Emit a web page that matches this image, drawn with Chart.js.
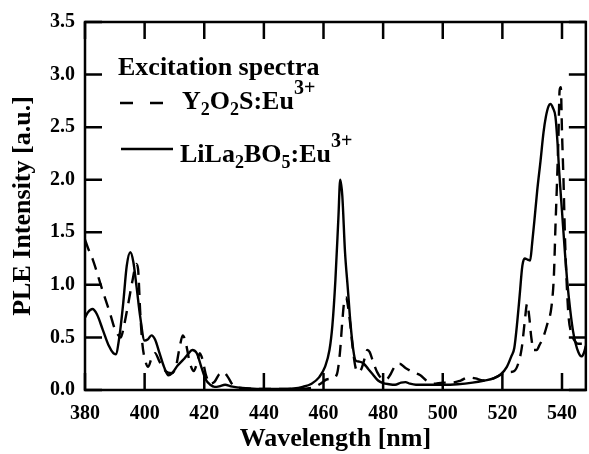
<!DOCTYPE html>
<html>
<head>
<meta charset="utf-8">
<script src="https://cdn.jsdelivr.net/npm/chart.js@4.4.1/dist/chart.umd.min.js"></script>
<style>
  html, body { margin: 0; padding: 0; background: #fff; }
  canvas { display: block; }
</style>
</head>
<body>
<canvas id="c" width="589" height="454"></canvas>
<script>
// ---- data ----
const xTickValues = [380, 400, 420, 440, 460, 480, 500, 520, 540];
const yTickValues = [0, 0.5, 1.0, 1.5, 2.0, 2.5, 3.0, 3.5];

// LiLa2BO5:Eu3+ (solid)
const wlLiLa = [380,381,382.5,384,386,388,389.5,390.3,391.5,392.8,394,395.2,396.2,397.3,398.5,400,401,402.3,403.5,405,406.5,408,409.5,411,413,414.5,416,417.5,419,420.5,422,423.5,425,427,429,431,435,440,445,450,453,456,458.5,460.5,462,463,464,465,465.6,466.3,467.2,468.2,469,470,470.8,472,473.5,475,476.5,478.3,480,482,484,486,487.5,489,491,495,500,505,510,514,517,519.5,521.5,523,524,525,525.8,526.7,527.5,528.5,529.3,530,530.7,531.7,532.8,533.8,534.6,535.5,536.1,537,537.8,538.5,539,540,541,541.7,542.8,543.7,544.5,545.5,546.5,547.3,548];
const valLiLa = [0.69,0.74,0.77,0.72,0.57,0.42,0.35,0.34,0.50,0.82,1.18,1.31,1.22,0.98,0.70,0.47,0.48,0.52,0.48,0.35,0.22,0.14,0.17,0.23,0.29,0.34,0.38,0.35,0.22,0.10,0.05,0.03,0.035,0.05,0.035,0.025,0.015,0.01,0.01,0.015,0.03,0.06,0.12,0.22,0.38,0.62,1.05,1.64,2.0,1.85,1.32,0.95,0.65,0.38,0.28,0.27,0.25,0.20,0.15,0.09,0.065,0.055,0.05,0.07,0.075,0.06,0.05,0.05,0.05,0.055,0.07,0.09,0.11,0.15,0.22,0.32,0.40,0.65,0.90,1.18,1.25,1.24,1.23,1.40,1.60,1.90,2.18,2.45,2.60,2.70,2.72,2.68,2.60,2.35,2.10,1.70,1.30,1.05,0.75,0.56,0.45,0.36,0.32,0.35,0.42];

// Y2O2S:Eu3+ (dashed)
const wlY2O2S = [380,381,382.5,384,385.5,387,388.5,390,391.2,392,393,394.5,396,397.2,397.8,398.5,399.2,400.3,401.2,402.3,403.5,405,407,409,410.5,411.7,412.8,413.8,415,416.5,417.5,418.5,419.5,420.5,422,423.5,425,426.5,428,429.5,432,440,450,456,459,461,463,464.5,465.5,466.3,467,467.6,468.3,469,469.8,470.7,471.7,472.7,473.8,474.7,475.5,476.5,478,479.5,481,482.5,484,485.5,487.5,490,492.5,494.5,497,500,503,506,508.5,511,513.5,516,518.5,520.5,522.5,524,525.3,526.5,527.5,528.3,529,529.7,530.5,531.5,532.5,533.7,535,536.5,537.3,537.8,538.3,538.8,539.2,539.6,540,540.5,541,541.6,542.2,543,544,545.5,547,548];
const valY2O2S = [1.43,1.35,1.25,1.12,0.98,0.85,0.72,0.58,0.52,0.50,0.60,0.82,1.05,1.20,1.15,0.75,0.45,0.27,0.22,0.30,0.35,0.27,0.18,0.16,0.22,0.40,0.52,0.45,0.28,0.18,0.25,0.35,0.28,0.15,0.06,0.08,0.15,0.17,0.12,0.05,0.02,0.01,0.01,0.02,0.06,0.10,0.11,0.15,0.35,0.65,0.85,0.88,0.78,0.62,0.40,0.22,0.17,0.20,0.30,0.38,0.36,0.28,0.17,0.11,0.10,0.15,0.23,0.25,0.21,0.17,0.14,0.09,0.06,0.07,0.07,0.09,0.12,0.11,0.09,0.10,0.13,0.16,0.17,0.18,0.25,0.40,0.65,0.82,0.70,0.50,0.38,0.38,0.43,0.50,0.62,0.80,1.10,1.55,1.95,2.40,2.85,2.88,2.45,2.00,1.45,1.00,0.70,0.55,0.48,0.44,0.44,0.42];

const xTitle = "Wavelength [nm]";
const yTitle = "PLE Intensity [a.u.]";
const legendHeading = "Excitation spectra";

const FONT = "'Liberation Serif', 'Times New Roman', serif";

function pts(xs, ys) { return xs.map((x, i) => ({x: x, y: ys[i]})); }

// rich text helper: segments [text, kind] kind: n / sub / sup
function drawRich(ctx, x, y, segs) {
  let cx = x;
  ctx.textBaseline = 'alphabetic';
  ctx.textAlign = 'left';
  for (const [t, k] of segs) {
    let size = 26, dy = 0;
    if (k === 'sub') { size = 18; dy = 6; }
    if (k === 'sup') { size = 20; dy = -15; }
    ctx.font = "bold " + size + "px " + FONT;
    ctx.fillText(t, cx, y + dy);
    cx += ctx.measureText(t).width;
  }
}

const framePlugin = {
  id: 'frameAndLegend',
  afterDraw(chart) {
    const ctx = chart.ctx;
    const a = chart.chartArea;
    const xs = chart.scales.x, ys = chart.scales.y;
    ctx.save();
    ctx.strokeStyle = '#000';
    ctx.lineWidth = 2.5;
    ctx.setLineDash([]);
    ctx.strokeRect(a.left, a.top, a.right - a.left, a.bottom - a.top);
    const TL = 17;
    ctx.beginPath();
    for (const v of xTickValues) {
      const px = xs.getPixelForValue(v);
      ctx.moveTo(px, a.bottom); ctx.lineTo(px, a.bottom - TL);
      ctx.moveTo(px, a.top); ctx.lineTo(px, a.top + TL);
    }
    for (const v of yTickValues) {
      const py = ys.getPixelForValue(v);
      ctx.moveTo(a.left, py); ctx.lineTo(a.left + TL, py);
      ctx.moveTo(a.right, py); ctx.lineTo(a.right - TL, py);
    }
    ctx.stroke();

    // legend
    ctx.fillStyle = '#000';
    ctx.font = "bold 26px " + FONT;
    ctx.textBaseline = 'alphabetic';
    ctx.fillText(legendHeading, 118, 75);

    ctx.lineWidth = 2.5;
    ctx.setLineDash([13, 17]);
    ctx.beginPath(); ctx.moveTo(120, 103); ctx.lineTo(164, 103); ctx.stroke();
    drawRich(ctx, 182, 109, [["Y","n"],["2","sub"],["O","n"],["2","sub"],["S:Eu","n"],["3+","sup"]]);

    ctx.setLineDash([]);
    ctx.beginPath(); ctx.moveTo(121, 149); ctx.lineTo(173, 149); ctx.stroke();
    drawRich(ctx, 180, 162, [["LiLa","n"],["2","sub"],["BO","n"],["5","sub"],[":Eu","n"],["3+","sup"]]);
    ctx.restore();
  }
};

new Chart(document.getElementById('c'), {
  type: 'line',
  data: {
    datasets: [
      { label: 'Y2O2S:Eu3+', data: pts(wlY2O2S, valY2O2S), borderColor: '#000', borderWidth: 2.4,
        borderDash: [12, 8], pointRadius: 0, cubicInterpolationMode: 'monotone', fill: false },
      { label: 'LiLa2BO5:Eu3+', data: pts(wlLiLa, valLiLa), borderColor: '#000', borderWidth: 2.4,
        pointRadius: 0, cubicInterpolationMode: 'monotone', fill: false }
    ]
  },
  options: {
    responsive: false,
    devicePixelRatio: 1,
    animation: false,
    layout: { padding: { top: 20, left: 0, right: 0, bottom: 0 } },
    plugins: { legend: { display: false }, tooltip: { enabled: false } },
    scales: {
      x: {
        type: 'linear', min: 380, max: 548,
        afterFit: s => { s.height = 64; },
        afterBuildTicks: s => { s.ticks = xTickValues.map(v => ({value: v})); },
        grid: { display: false, drawTicks: false },
        border: { display: false },
        ticks: { color: '#000', padding: 12, font: { family: FONT, size: 20, weight: 'bold' },
                 callback: v => String(v), maxRotation: 0, autoSkip: false },
        title: { display: true, text: xTitle, color: '#000',
                 font: { family: FONT, size: 26, weight: 'bold', lineHeight: 1.1 },
                 padding: { top: 0, bottom: 0 } }
      },
      y: {
        type: 'linear', min: 0, max: 3.5,
        afterFit: s => { s.width = 85; },
        afterBuildTicks: s => { s.ticks = yTickValues.map(v => ({value: v})); },
        grid: { display: false, drawTicks: false },
        border: { display: false },
        ticks: { color: '#000', padding: 10, font: { family: FONT, size: 20, weight: 'bold' },
                 callback: v => Number(v).toFixed(1), autoSkip: false },
        title: { display: true, text: yTitle, color: '#000',
                 font: { family: FONT, size: 26, weight: 'bold', lineHeight: 1.1 },
                 padding: { top: 9, bottom: 0 } }
      }
    }
  },
  plugins: [framePlugin]
});
</script>
</body>
</html>
